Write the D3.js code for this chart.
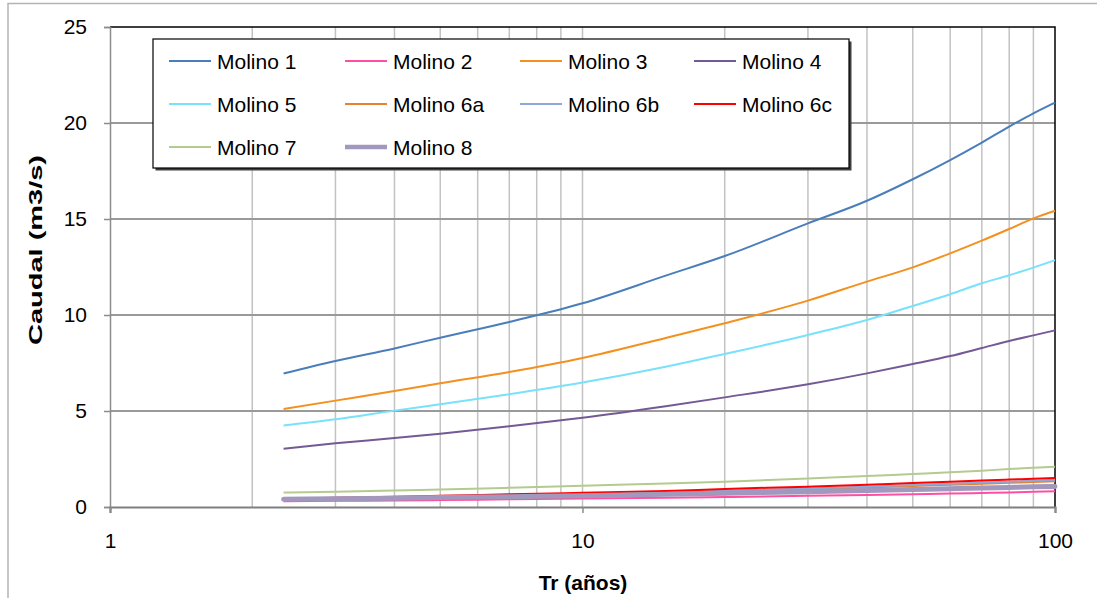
<!DOCTYPE html>
<html>
<head>
<meta charset="utf-8">
<script src="https://cdn.jsdelivr.net/npm/d3@7"></script>
<style>
  html, body { margin: 0; padding: 0; background: #fff; }
  svg { display: block; }
  text { font-family: "Liberation Sans", Arial, sans-serif; fill: #000; }
</style>
</head>
<body>
<svg id="chart" width="1097" height="598"></svg>
<script>
// ---- Data ----
const returnPeriods = [2.33, 3, 4, 5, 7, 10, 15, 20, 30, 40, 50, 60, 70, 80, 90, 100];
const seriesNames = ["Molino 1", "Molino 2", "Molino 3", "Molino 4", "Molino 5",
                     "Molino 6a", "Molino 6b", "Molino 6c", "Molino 7", "Molino 8"];
const molino1  = [6.95, 7.60, 8.26, 8.82, 9.64, 10.61, 12.05, 13.07, 14.77, 15.95, 17.07, 18.07, 18.98, 19.81, 20.50, 21.06];
const molino2  = [0.30, 0.32, 0.34, 0.36, 0.40, 0.44, 0.48, 0.52, 0.58, 0.63, 0.67, 0.70, 0.73, 0.76, 0.79, 0.82];
const molino3  = [5.10, 5.54, 6.04, 6.44, 7.03, 7.76, 8.80, 9.57, 10.75, 11.74, 12.48, 13.21, 13.87, 14.48, 15.03, 15.43];
const molino4  = [3.04, 3.32, 3.59, 3.82, 4.20, 4.65, 5.25, 5.71, 6.39, 6.96, 7.45, 7.86, 8.28, 8.65, 8.94, 9.20];
const molino5  = [4.25, 4.57, 5.02, 5.35, 5.87, 6.48, 7.30, 7.97, 8.96, 9.74, 10.47, 11.08, 11.65, 12.07, 12.47, 12.86];
const molino6a = [0.36, 0.41, 0.46, 0.50, 0.57, 0.64, 0.73, 0.82, 0.92, 1.02, 1.10, 1.16, 1.21, 1.26, 1.30, 1.34];
const molino6b = [0.38, 0.43, 0.48, 0.52, 0.59, 0.67, 0.76, 0.85, 0.96, 1.06, 1.14, 1.21, 1.27, 1.32, 1.37, 1.42];
const molino6c = [0.43, 0.48, 0.54, 0.58, 0.66, 0.74, 0.83, 0.94, 1.06, 1.16, 1.25, 1.32, 1.38, 1.43, 1.47, 1.51];
const molino7  = [0.75, 0.80, 0.86, 0.91, 1.00, 1.11, 1.22, 1.32, 1.48, 1.61, 1.72, 1.81, 1.89, 1.98, 2.04, 2.10];
const molino8  = [0.40, 0.43, 0.46, 0.49, 0.54, 0.59, 0.66, 0.72, 0.80, 0.86, 0.91, 0.95, 0.99, 1.02, 1.05, 1.07];
const seriesValues = [molino1, molino2, molino3, molino4, molino5, molino6a, molino6b, molino6c, molino7, molino8];
const seriesColors = ["#4a7ebb", "#ff4fa3", "#f4901e", "#735a94", "#78e1fb",
                      "#e6822e", "#8ea8d8", "#ff0000", "#b3cb8e", "#a297bd"];
const seriesWidths = [2, 2, 2, 2, 2, 2, 2, 2, 2, 5];
const xTickLabels = [1, 10, 100];
const yTickValues = [0, 5, 10, 15, 20, 25];
const xTitle = "Tr (años)";
const yTitle = "Caudal (m3/s)";

// ---- Layout ----
const svg = d3.select("#chart");
const L = 110, R = 1055, T = 27, B = 507;
const x = d3.scaleLog().domain([1, 100]).range([L, R]);
const y = d3.scaleLinear().domain([0, 25]).range([B, T]);

// outer chart border
svg.append("rect").attr("x", 8).attr("y", 3.5).attr("width", 1100).attr("height", 600)
  .attr("fill", "#fff").attr("stroke", "#b4b4b4").attr("stroke-width", 1.5);

// vertical minor grid lines
const vTicks = x.ticks().filter(v => v > 1 && v < 100);
svg.append("g").selectAll("line").data(vTicks).join("line")
  .attr("x1", d => x(d)).attr("x2", d => x(d)).attr("y1", T).attr("y2", B)
  .attr("stroke", "#c3c3c3").attr("stroke-width", 1.5);

// horizontal major grid lines
svg.append("g").selectAll("line").data(yTickValues.filter(v => v > 0 && v < 25)).join("line")
  .attr("x1", L).attr("x2", R).attr("y1", d => y(d)).attr("y2", d => y(d))
  .attr("stroke", "#9a9a9a").attr("stroke-width", 1.8);

// plot border top & right (black)
svg.append("path").attr("d", `M${L},${T}H${R}V${B}`).attr("fill", "none")
  .attr("stroke", "#000").attr("stroke-width", 1.5);

// y axis
const yAxis = d3.axisLeft(y).tickValues(yTickValues).tickSize(6).tickPadding(17).tickFormat(d3.format("d"));
const gy = svg.append("g").attr("transform", `translate(${L},0)`).call(yAxis);
gy.select(".domain").attr("stroke", "#8c8c8c").attr("stroke-width", 1.5);
gy.selectAll(".tick line").attr("stroke", "#8c8c8c").attr("stroke-width", 1.5);
gy.selectAll(".tick text").attr("font-size", 21).attr("font-family", "Liberation Sans, Arial, sans-serif").attr("fill", "#000");

// x axis
const xAxis = d3.axisBottom(x).tickValues(xTickLabels).tickSize(6).tickPadding(20).tickFormat(d3.format("d"));
const gx = svg.append("g").attr("transform", `translate(0,${B})`).call(xAxis);
gx.select(".domain").attr("stroke", "#7f7f7f").attr("stroke-width", 2.2);
gx.selectAll(".tick line").attr("stroke", "#8c8c8c").attr("stroke-width", 1.5);
gx.selectAll(".tick text").attr("font-size", 21).attr("font-family", "Liberation Sans, Arial, sans-serif").attr("fill", "#000");

// series lines
const line = d3.line().x(d => x(d[0])).y(d => y(d[1])).curve(d3.curveMonotoneX);
seriesNames.forEach((name, i) => {
  const pts = returnPeriods.map((t, j) => [t, seriesValues[i][j]]);
  svg.append("path").datum(pts).attr("d", line).attr("fill", "none")
    .attr("stroke", seriesColors[i]).attr("stroke-width", seriesWidths[i])
    .attr("stroke-linecap", i === 9 ? "round" : "butt");
});

// axis titles
svg.append("text").attr("x", 583).attr("y", 590).attr("text-anchor", "middle")
  .attr("font-size", 21).attr("font-weight", "bold").text(xTitle);
svg.append("text").attr("transform", "translate(42,250) rotate(-90)").attr("text-anchor", "middle")
  .attr("font-size", 19).attr("font-weight", "bold")
  .attr("textLength", 190).attr("lengthAdjust", "spacingAndGlyphs").text(yTitle);

// legend
const lg = svg.append("g");
const lgX = 153, lgY = 39, lgW = 696, lgH = 129;
lg.append("rect").attr("x", lgX + 2.5).attr("y", lgY + 2.5).attr("width", lgW).attr("height", lgH).attr("fill", "#404040");
lg.append("rect").attr("x", lgX).attr("y", lgY).attr("width", lgW).attr("height", lgH)
  .attr("fill", "#fff").attr("stroke", "#000").attr("stroke-width", 1.2);
const colX = [169, 345, 520, 694];
const rowY = [61, 104, 147];
seriesNames.forEach((name, i) => {
  const cx = colX[i % 4], cy = rowY[Math.floor(i / 4)];
  lg.append("line").attr("x1", cx).attr("x2", cx + 42).attr("y1", cy).attr("y2", cy)
    .attr("stroke", seriesColors[i]).attr("stroke-width", seriesWidths[i] === 5 ? 4.5 : 2);
  lg.append("text").attr("x", cx + 48).attr("y", cy + 7.5).attr("font-size", 21).text(name);
});
</script>
</body>
</html>
